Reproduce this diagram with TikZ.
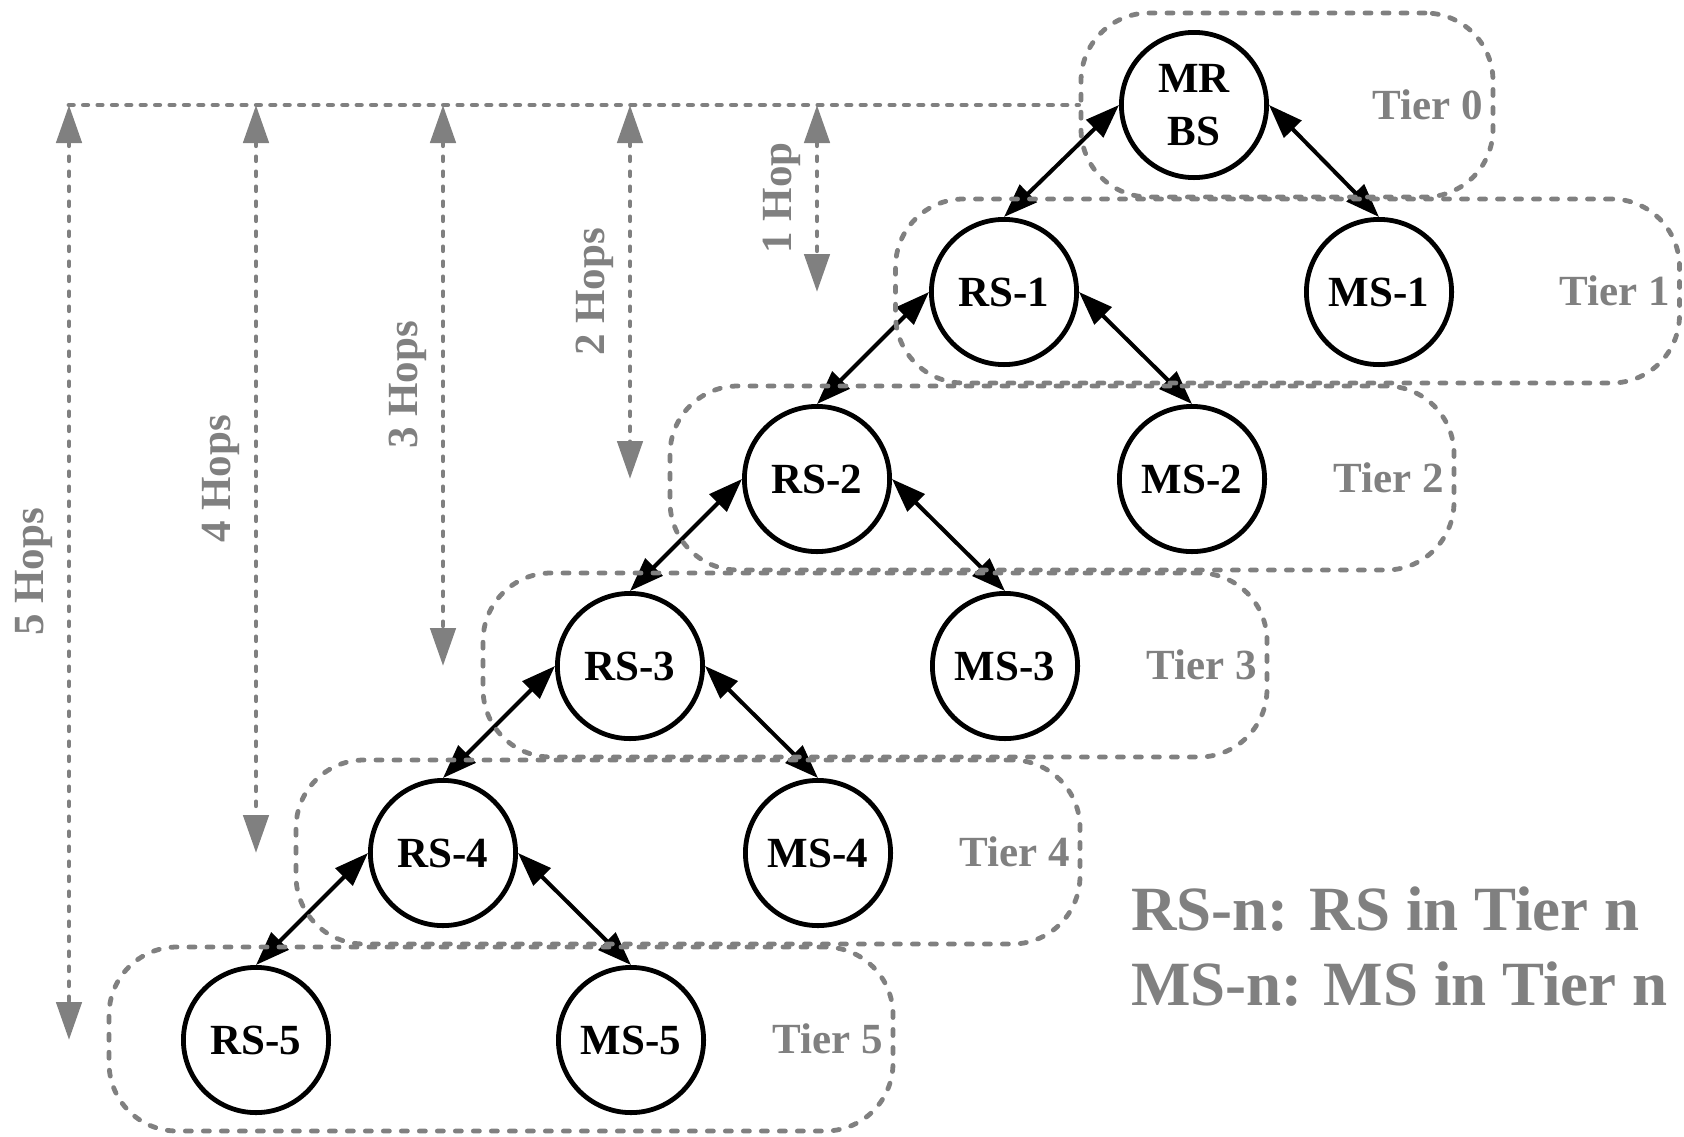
\documentclass[tikz,border=0pt]{standalone}
\usepackage{fontspec}
\setmainfont{Liberation Serif}
\usetikzlibrary{arrows.meta}
\begin{document}
\begin{tikzpicture}[x=0.5pt,y=-0.5pt,
  station/.style={circle,draw=black,line width=2.4pt,fill=white,minimum size=72.6pt,inner sep=0pt,
    font=\fontsize{21.5}{26.5}\selectfont\bfseries,align=center},
  conn/.style={draw=black,line width=2pt,{Triangle[length=17pt,width=12pt]}-{Triangle[length=17pt,width=12pt]}},
  tierbox/.style={draw=gray,line width=2.4pt,rounded corners=34pt,dash pattern=on 3pt off 6pt,line cap=round,
    minimum height=92pt,inner sep=0pt},
  tierlabel/.style={text=gray,font=\fontsize{21.5}{26}\selectfont\bfseries,anchor=east,inner sep=0pt},
  hopline/.style={draw=gray,line width=2.4pt,line cap=round,dash pattern=on 2pt off 5.5pt,
    {Triangle[length=19pt,width=12.5pt]}-{Triangle[length=19pt,width=12.5pt]}},
  topline/.style={draw=gray,line width=2.4pt,line cap=round,dash pattern=on 2.2pt off 5pt},
  hoplabel/.style={text=gray,font=\fontsize{21.5}{26}\selectfont\bfseries,rotate=90,inner sep=0pt},
  legendtext/.style={text=gray,font=\fontsize{31.5}{37.5}\selectfont\bfseries,anchor=base west,inner sep=0pt}]
\useasboundingbox (0,0) rectangle (1684,1136);

% stations
\node[station] (MRBS) at (1194,105) {MR\\BS};
\node[station] (RS1) at (1004,292) {RS-1};
\node[station] (MS1) at (1379,292) {MS-1};
\node[station] (RS2) at (817,479) {RS-2};
\node[station] (MS2) at (1192,479) {MS-2};
\node[station] (RS3) at (630,666) {RS-3};
\node[station] (MS3) at (1005,666) {MS-3};
\node[station] (RS4) at (443,853) {RS-4};
\node[station] (MS4) at (818,853) {MS-4};
\node[station] (RS5) at (256,1040) {RS-5};
\node[station] (MS5) at (631,1040) {MS-5};

% connectors
\draw[conn] (MRBS.west) -- (RS1.north);
\draw[conn] (MRBS.east) -- (MS1.north);
\draw[conn] (RS1.west) -- (RS2.north);
\draw[conn] (RS1.east) -- (MS2.north);
\draw[conn] (RS2.west) -- (RS3.north);
\draw[conn] (RS2.east) -- (MS3.north);
\draw[conn] (RS3.west) -- (RS4.north);
\draw[conn] (RS3.east) -- (MS4.north);
\draw[conn] (RS4.west) -- (RS5.north);
\draw[conn] (RS4.east) -- (MS5.north);

% tier boxes
\node[tierbox,minimum width=206pt] (tier0) at (1287,105) {};
\node[tierbox,minimum width=392pt] (tier1) at (1287.5,291) {};
\node[tierbox,minimum width=392pt] (tier2) at (1062,478) {};
\node[tierbox,minimum width=392pt] (tier3) at (875,665) {};
\node[tierbox,minimum width=392pt] (tier4) at (688,852) {};
\node[tierbox,minimum width=392pt] (tier5) at (501,1039) {};

\node[tierlabel] (lab0) at ([xshift=-6pt]tier0.east) {Tier 0};
\node[tierlabel] (lab1) at ([xshift=-6pt]tier1.east) {Tier 1};
\node[tierlabel] (lab2) at ([xshift=-6pt]tier2.east) {Tier 2};
\node[tierlabel] (lab3) at ([xshift=-6pt]tier3.east) {Tier 3};
\node[tierlabel] (lab4) at ([xshift=-6pt]tier4.east) {Tier 4};
\node[tierlabel] (lab5) at ([xshift=-6pt]tier5.east) {Tier 5};

% hop measures
\coordinate (hT1) at (817,105);
\coordinate (hT2) at (630,105);
\coordinate (hT3) at (443,105);
\coordinate (hT4) at (256,105);
\coordinate (hT5) at (69,105);
\coordinate (hB1) at (817,292);
\coordinate (hB2) at (630,479);
\coordinate (hB3) at (443,666);
\coordinate (hB4) at (256,853);
\coordinate (hB5) at (69,1040);

\draw[topline] (hT5) -- (tier0.west);
\draw[hopline] (hT1) -- (hB1);
\draw[hopline] (hT2) -- (hB2);
\draw[hopline] (hT3) -- (hB3);
\draw[hopline] (hT4) -- (hB4);
\draw[hopline] (hT5) -- (hB5);

\node[hoplabel] (hl1) at (782,198) {1 Hop};
\node[hoplabel] (hl2) at (595,292) {2 Hops};
\node[hoplabel] (hl3) at (408,385) {3 Hops};
\node[hoplabel] (hl4) at (221,479) {4 Hops};
\node[hoplabel] (hl5) at (34,572) {5 Hops};

% legend
\node[legendtext] (leg1) at (1131,930) {RS-n: RS in Tier n};
\node[legendtext] (leg2) at (1131,1005) {MS-n: MS in Tier n};
\end{tikzpicture}
\end{document}
